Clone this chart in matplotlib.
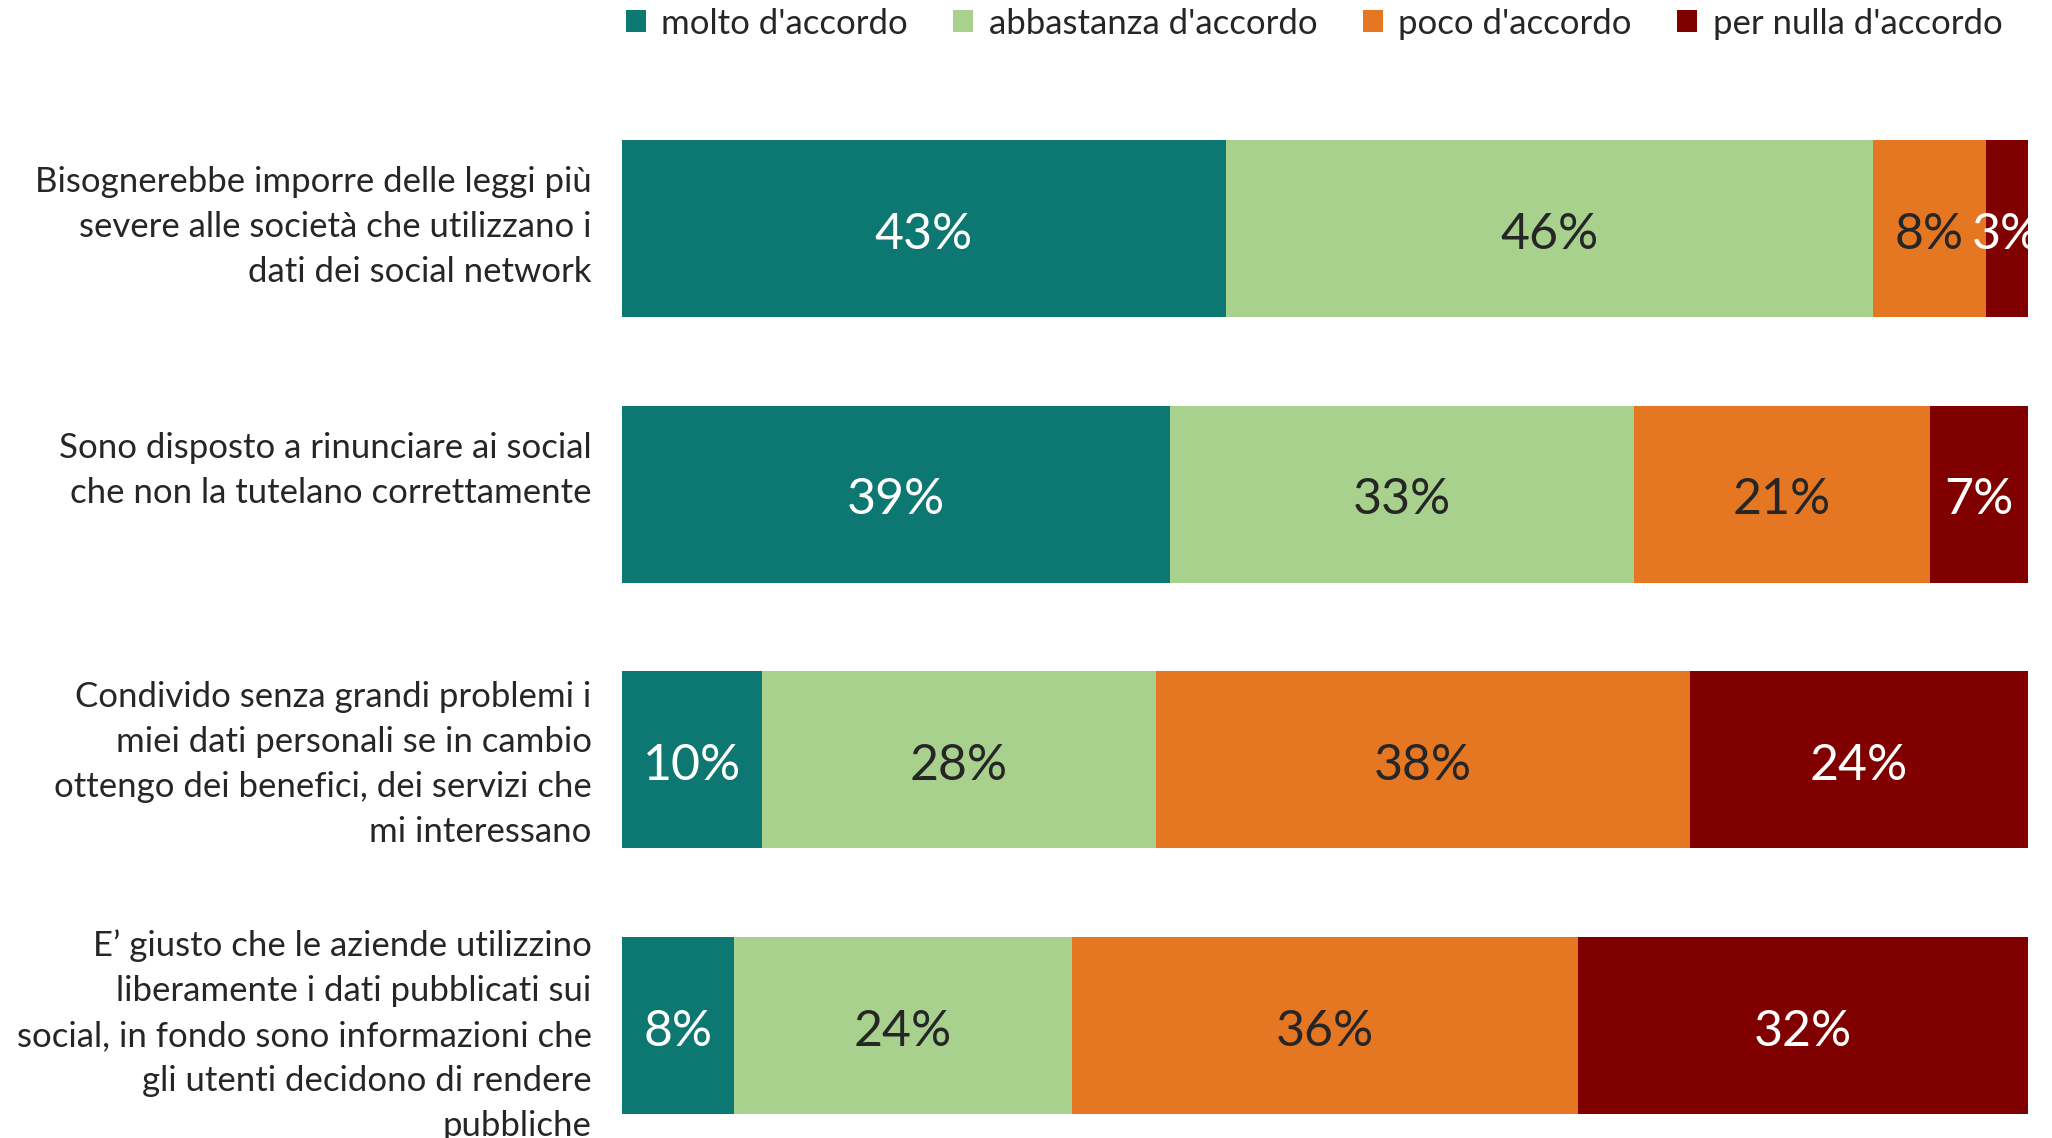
import matplotlib
matplotlib.use("Agg")
import matplotlib.pyplot as plt
from matplotlib import font_manager
from matplotlib.patches import Patch

categories = [
    "Bisognerebbe imporre delle leggi più\nsevere alle società che utilizzano i\ndati dei social network",
    "Sono disposto a rinunciare ai social\nche non la tutelano correttamente",
    "Condivido senza grandi problemi i\nmiei dati personali se in cambio\nottengo dei benefici, dei servizi che\nmi interessano",
    "E’ giusto che le aziende utilizzino\nliberamente i dati pubblicati sui\nsocial, in fondo sono informazioni che\ngli utenti decidono di rendere\npubbliche",
]
series_names = ["molto d'accordo", "abbastanza d'accordo", "poco d'accordo", "per nulla d'accordo"]
molto = [43, 39, 10, 8]
abbastanza = [46, 33, 28, 24]
poco = [8, 21, 38, 36]
per_nulla = [3, 7, 24, 32]
colors = ["#0C7871", "#A9D18E", "#E67722", "#800000"]
text_colors = ["white", "#262626", "#262626", "white"]
label_offsets_pt = [0.9, 16.9, -3.7, -7.1]

names = {f.name for f in font_manager.fontManager.ttflist}
main_font = "Lato" if "Lato" in names else "DejaVu Sans"

fig = plt.figure(figsize=(20.52, 11.38), dpi=100)
ax = fig.add_axes([621.6 / 2052, 1 - 1114 / 1138, (2028 - 621.6) / 2052, (1114 - 140) / 1138])

values = [molto, abbastanza, poco, per_nulla]
ypos = list(range(len(categories)))
left = [0] * len(categories)
bar_h = 0.666
for vals, col, tcol in zip(values, colors, text_colors):
    ax.barh(ypos, vals, left=left, height=bar_h, color=col, edgecolor="none")
    for y, v, l in zip(ypos, vals, left):
        ax.annotate(f"{v}%", xy=(l + v / 2, y), xytext=(0, -4.5), textcoords="offset points",
                    ha="center", va="center", color=tcol,
                    fontsize=36, family=main_font, annotation_clip=False, clip_on=True)
    left = [a + b for a, b in zip(left, vals)]

ax.set_xlim(0, 100)
ax.set_ylim(len(categories) - 1 + bar_h / 2, -bar_h / 2)
ax.set_yticks(ypos)
ax.set_yticklabels([])
ax.tick_params(axis="y", length=0)
ax.set_xticks([])
for s in ax.spines.values():
    s.set_visible(False)

for y, lab, dy in zip(ypos, categories, label_offsets_pt):
    ax.annotate(lab, xy=(0, y), xycoords=("axes fraction", "data"), xytext=(-21.5, dy),
                textcoords="offset points", ha="right", va="center", fontsize=25,
                family=main_font, color="#262626", linespacing=1.5, annotation_clip=False)

handles = [Patch(facecolor=c, edgecolor="none") for c in colors]
fig.legend(handles, series_names, loc="center right",
           bbox_to_anchor=(2020 / 2052, 1 - 23.5 / 1138), ncol=4, frameon=False,
           prop={"family": main_font, "size": 25}, handlelength=0.58, handleheight=0.58,
           handletextpad=0.45, columnspacing=1.3, borderpad=0, labelcolor="#262626")

fig.savefig("out.png", dpi=100, facecolor="white")
